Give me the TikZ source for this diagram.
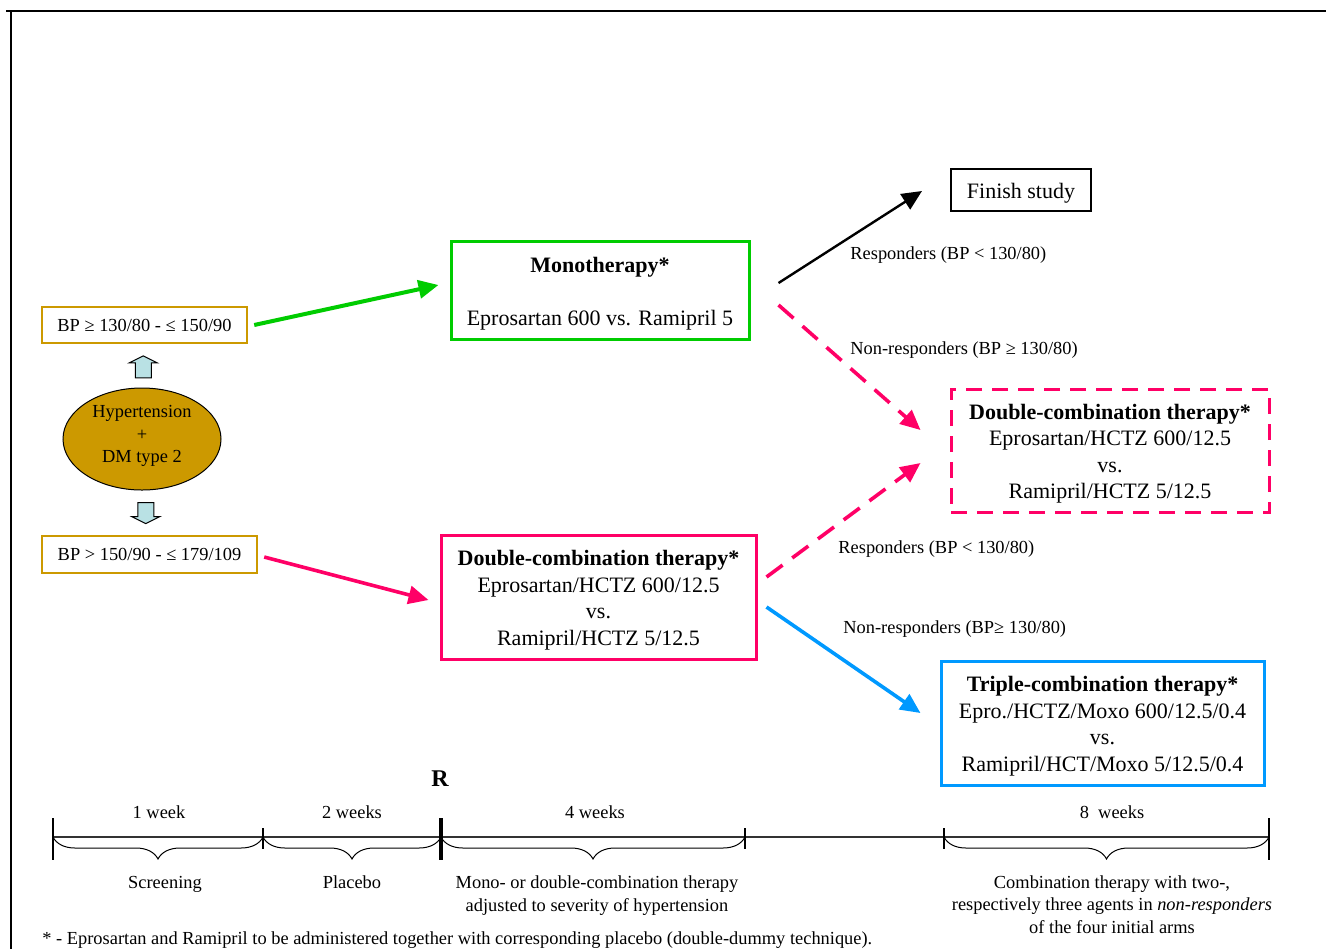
\documentclass[tikz,border=0pt]{standalone}
\usepackage{fontspec}
\setmainfont{Liberation Serif}
\usetikzlibrary{arrows.meta,calc,shapes.geometric,decorations.pathreplacing}
\definecolor{grn}{RGB}{0,204,0}
\definecolor{pnk}{RGB}{255,0,102}
\definecolor{blu}{RGB}{0,153,255}
\definecolor{gld}{RGB}{204,153,0}
\definecolor{lblu}{RGB}{185,225,228}
\newcommand{\topstrut}{\rule{0pt}{10.9pt}}

\begin{document}
\begin{tikzpicture}[x=0.5pt,y=-0.5pt,
  boxfont/.style={font=\fontsize{11}{13.25}\selectfont},
  smallfont/.style={font=\fontsize{9.2}{11.25}\selectfont},
  therapy/.style={draw,line width=1.5pt,boxfont,align=center,inner sep=0pt},
  bpbox/.style={draw=gld,line width=1.2pt,smallfont,inner sep=0pt,minimum height=18pt},
  lbl/.style={smallfont,anchor=west,inner sep=0pt},
  tip/.style={-{Triangle[length=10pt,width=9pt]}},
  blockarr/.style={draw,fill=lblu,line width=0.5pt},
  tick/.style={line width=0.6pt},
  brc/.style={decorate,decoration={brace,mirror,amplitude=11pt},line width=0.5pt}]
\useasboundingbox (0,0) rectangle (1326,949);

% frame
\draw[line width=1pt] (6,11) -- (1326,11);
\draw[line width=1pt] (11,11) -- (11,949);

% patients
\node[ellipse,draw,fill=gld,line width=0.5pt,minimum width=79pt,minimum height=51pt,smallfont,align=center,inner sep=0pt] (ht) at (142,439) {Hypertension\\+\\DM type 2\rule[-5pt]{0pt}{0pt}};
\node[bpbox,minimum width=102.5pt] (bp1) at (144.5,325) {BP ≥ 130/80 - ≤ 150/90};
\node[bpbox,minimum width=107.5pt,minimum height=18.5pt] (bp2) at (149.5,554.5) {BP > 150/90 - ≤ 179/109};

\coordinate (up) at ($(ht.north)!0.5!(bp1.south)$);
\coordinate (dn) at ($(ht.south)!0.5!(bp2.north)$);
\draw[blockarr,shift={(up)}] (-8,12) -- (-8,-3) -- (-14,-3) -- (0,-10) -- (14,-3) -- (8,-3) -- (8,12) -- cycle;
\draw[blockarr,shift={(dn)}] (-8,-10) -- (-8,4) -- (-14,4) -- (0,11) -- (14,4) -- (8,4) -- (8,-10) -- cycle;

% therapy arms
\node[therapy,draw=grn,minimum width=149pt,minimum height=49pt] (mono) at (600,290) {\topstrut\textbf{Monotherapy*}\\[13.25pt]Eprosartan 600 vs. Ramipril 5};
\node[therapy,draw=pnk,minimum width=157.5pt,minimum height=62pt] (dbl) at (598.5,597) {\topstrut\textbf{Double-combination therapy*}\\Eprosartan/HCTZ 600/12.5\\vs.\\Ramipril/HCTZ 5/12.5};
\node[draw,line width=1pt,boxfont,minimum width=70pt,minimum height=21pt,inner sep=0pt] (fin) at (1021,190) {\topstrut Finish study};
\node[therapy,draw=pnk,dash pattern=on 8pt off 5pt,minimum width=159pt,minimum height=61.5pt] (dblr) at (1110,450.5) {\topstrut\textbf{Double-combination therapy*}\\Eprosartan/HCTZ 600/12.5\\vs.\\Ramipril/HCTZ 5/12.5};
\node[therapy,draw=blu,minimum width=161.5pt,minimum height=62pt] (tri) at (1102.5,723) {\topstrut\textbf{Triple-combination therapy*}\\Epro./HCTZ/Moxo 600/12.5/0.4\\vs.\\Ramipril/HCT/Moxo 5/12.5/0.4};

% connectors
\draw[tip,grn,line width=2pt] ($(bp1.east)+(6,0)$) -- ($(mono.west)+(-11,-5)$);
\draw[tip,pnk,line width=1.8pt] ($(bp2.east)+(6,2.5)$) -- ($(dbl.west)+(-11,3)$);
\draw[tip,line width=1.2pt] ($(mono.east)+(28,-7)$) -- ($(fin.west)+(-28,1)$);
\draw[tip,pnk,line width=1.8pt,dash pattern=on 10pt off 6pt] ($(mono.east)+(28,15)$) -- ($(dblr.west)+(-29,-20.5)$);
\draw[tip,pnk,line width=1.8pt,dash pattern=on 10pt off 6pt] ($(dbl.east)+(9,-20)$) -- ($(dblr.west)+(-29,12.5)$);
\draw[tip,blu,line width=1.8pt] ($(dbl.east)+(9,10)$) -- ($(tri.west)+(-19,-10)$);

\node[lbl] (resp1) at (850,255) {Responders (BP < 130/80)};
\node[lbl] (nonresp1) at (850,350) {Non-responders (BP ≥ 130/80)};
\node[lbl] (resp2) at (838,549) {Responders (BP < 130/80)};
\node[lbl] (nonresp2) at (843,629) {Non-responders (BP≥ 130/80)};

% time line
\coordinate (t0) at (53,837);
\coordinate (t1) at (263,837);
\coordinate (t2) at (441,837);
\coordinate (t3) at (745,837);
\coordinate (t4) at (944,837);
\coordinate (t5) at (1269,837);
\draw[line width=0.8pt,black!80] (t0) -- (t5);
\foreach \t in {t1,t3,t4}
  \draw[tick] ($(\t)+(0,-9)$) -- ($(\t)+(0,12)$);
\foreach \t in {t0,t5}
  \draw[tick] ($(\t)+(0,-19)$) -- ($(\t)+(0,23)$);
\draw[line width=2pt] ($(t2)+(0,-19)$) -- ($(t2)+(0,23)$);
\foreach \a/\b in {t0/t1,t1/t2,t2/t3,t4/t5}
  \draw[brc] (\a) -- (\b);

\node[font=\fontsize{12}{14}\selectfont\bfseries] (rand) at (440,779) {R};
\node[smallfont] (wk1) at (159,812) {1 week};
\node[smallfont] (wk2) at (352,812) {2 weeks};
\node[smallfont] (wk4) at (595,812) {4 weeks};
\node[smallfont] (wk8) at (1112,812) {8\ \ weeks};
\node[smallfont] (scr) at (165,884) {Screening};
\node[smallfont] (plc) at (352,882) {Placebo};
\node[smallfont,align=center] (phase1) at (597,895.5) {Mono- or double-combination therapy\\adjusted to severity of hypertension};
\node[smallfont,align=center] (phase2) at (1112,904.5) {Combination therapy with two-,\\respectively three agents in \textit{non-responders}\\of the four initial arms};

\node[lbl] (note) at (42,940) {* - Eprosartan and Ramipril to be administered together with corresponding placebo (double-dummy technique).};
\end{tikzpicture}
\end{document}
